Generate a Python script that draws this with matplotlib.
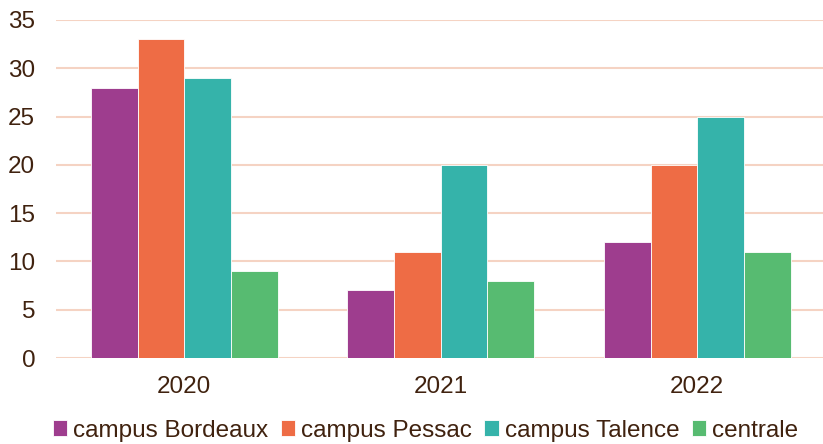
import matplotlib.pyplot as plt
import numpy as np

plt.rcParams['font.family'] = ['Liberation Sans', 'DejaVu Sans']

annees = ['2020', '2021', '2022']
series = ['campus Bordeaux', 'campus Pessac', 'campus Talence', 'centrale']
bordeaux = [28, 7, 12]
pessac = [33, 11, 20]
talence = [29, 20, 25]
centrale = [9, 8, 11]
valeurs = [bordeaux, pessac, talence, centrale]
couleurs = ['#9E3D8E', '#EE6C45', '#35B3AA', '#57BB71']
texte = '#40220F'

fig = plt.figure(figsize=(8.23, 4.44), dpi=100)
ax = fig.add_axes([56 / 823, 1 - 358 / 444, 1 - 56 / 823, (358 - 20) / 444])

x = np.arange(len(annees))
w = 0.182
for i, (nom, v, c) in enumerate(zip(series, valeurs, couleurs)):
    ax.bar(x + (i - 1.5) * w, v, w, color=c, label=nom,
           edgecolor='#ffffff', linewidth=0.6, zorder=3)

ax.set_xlim(-0.5, 2.49)
ax.set_ylim(0, 35)
ax.set_yticks(range(0, 36, 5))
ax.set_xticks(x)
ax.set_xticklabels(annees)
ax.grid(axis='y', color='#F5D3C3', linewidth=1.5, zorder=0)
for s in ax.spines.values():
    s.set_visible(False)
ax.tick_params(length=0, labelsize=17.5, colors=texte)
ax.tick_params(axis='x', pad=13)
ax.tick_params(axis='y', pad=15)

fig.legend(loc='lower center', bbox_to_anchor=(0.517, -0.044), ncol=4,
           frameon=False, fontsize=17.5, handlelength=0.6, handleheight=0.6,
           handletextpad=0.25, columnspacing=0.5, labelcolor=texte)

fig.savefig('out.png', dpi=100)
